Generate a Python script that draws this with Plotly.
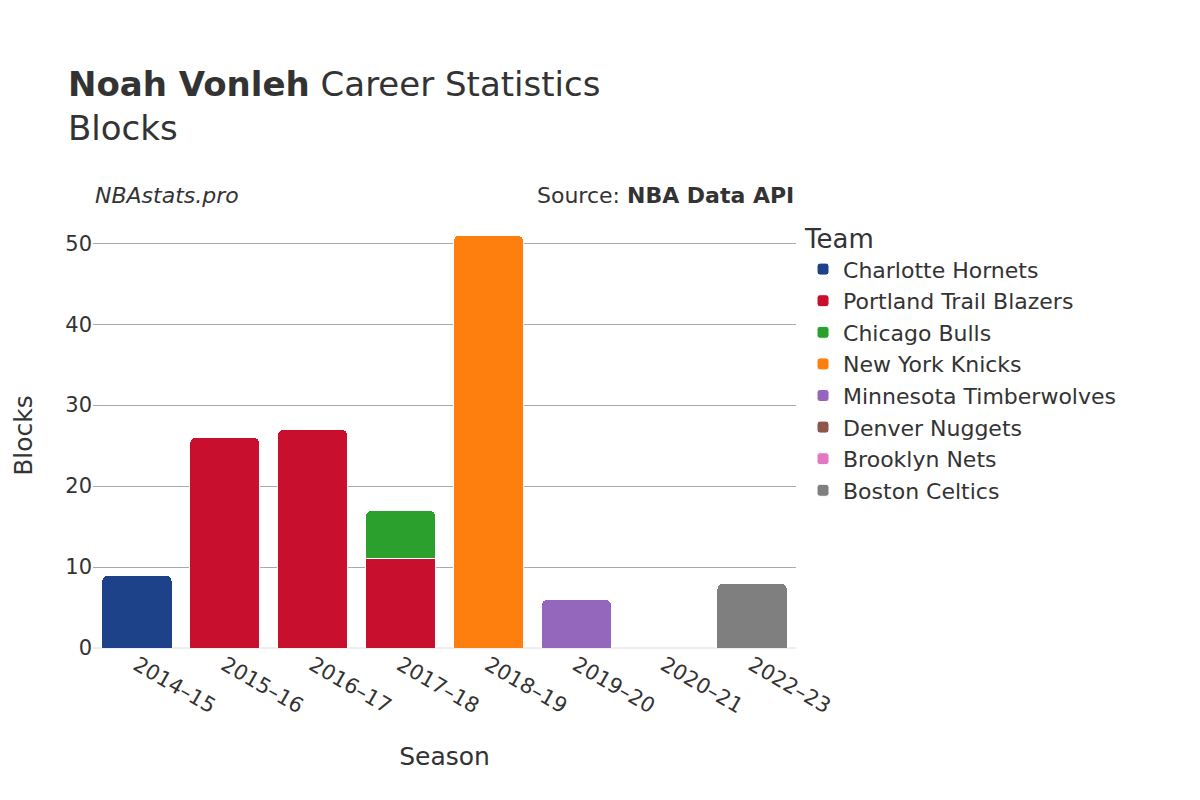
import plotly.graph_objects as go

seasons = ["2014–15", "2015–16", "2016–17", "2017–18", "2018–19", "2019–20", "2020–21", "2022–23"]
teams = ["Charlotte Hornets", "Portland Trail Blazers", "Chicago Bulls", "New York Knicks",
         "Minnesota Timberwolves", "Denver Nuggets", "Brooklyn Nets", "Boston Celtics"]
colors = ["#1d428a", "#c8102e", "#2ca02c", "#ff7f0e", "#9467bd", "#8c564b", "#e377c2", "#7f7f7f"]
team_seasons = [["2014–15"], ["2015–16", "2016–17", "2017–18"], ["2017–18"], ["2018–19"],
                ["2019–20"], ["2020–21"], ["2020–21"], ["2022–23"]]
team_blocks = [[9], [26, 27, 11], [6], [51], [6], [0], [0], [8]]

fig = go.Figure()
for name, col, xs, ys in zip(teams, colors, team_seasons, team_blocks):
    fig.add_trace(go.Bar(x=xs, y=ys, name=name, marker=dict(color=col, line=dict(color="white", width=1))))

fig.update_layout(
    barmode="stack", bargap=0.2, barcornerradius=6,
    width=1200, height=800,
    font=dict(family="DejaVu Sans", size=21, color="#333"),
    plot_bgcolor="white", paper_bgcolor="white",
    margin=dict(l=85, r=412, t=215, b=160),
    title=dict(text="<b>Noah Vonleh</b> Career Statistics<br>Blocks", x=0.05, y=0.89,
               xanchor="left", yanchor="bottom", font=dict(size=34, color="#333")),
    xaxis=dict(title=dict(text="Season", font=dict(size=25), standoff=30), tickangle=30,
               categoryorder="array", categoryarray=seasons),
    yaxis=dict(title=dict(text="Blocks", font=dict(size=25), standoff=25), range=[0, 52.5],
               gridcolor="#aaa", zeroline=True, zerolinecolor="#eee", zerolinewidth=2,
               tickvals=[0, 10, 20, 30, 40, 50]),
    legend=dict(title=dict(text="Team", font=dict(size=26)), x=1.01, y=1.02, yanchor="top",
                traceorder="normal", font=dict(size=22), tracegroupgap=8),
    annotations=[
        dict(text="<i>NBAstats.pro</i>", xref="paper", yref="paper", x=0, y=1.03,
             xanchor="left", yanchor="bottom", showarrow=False, font=dict(size=22)),
        dict(text="Source: <b>NBA Data API</b>", xref="paper", yref="paper", x=1, y=1.03,
             xanchor="right", yanchor="bottom", showarrow=False, font=dict(size=22)),
    ],
)
fig.write_html("out.html")
